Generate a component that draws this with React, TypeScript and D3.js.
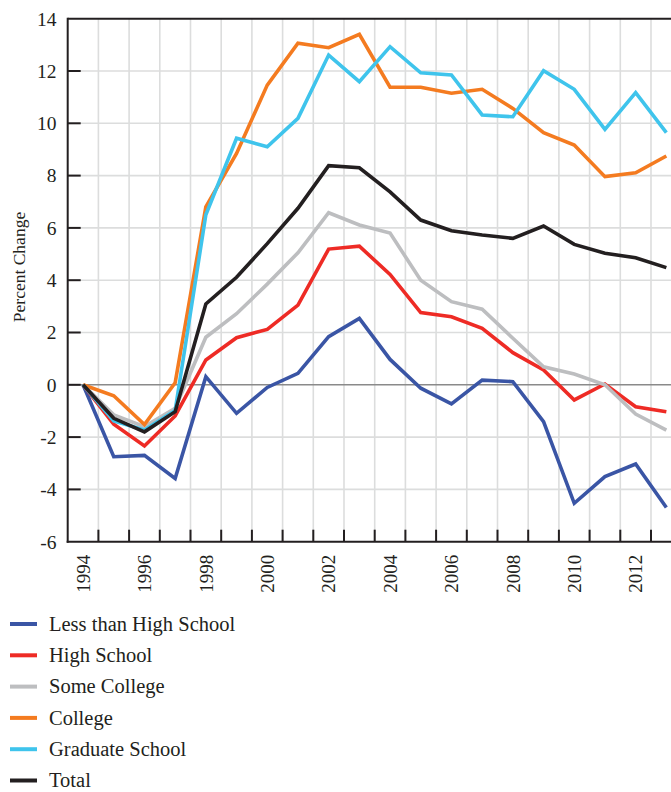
import React from "react";
import * as d3 from "d3";

const WIDTH = 671;
const HEIGHT = 792;
const MARGIN = { top: 18.7, left: 67.7, bottom: 541.7 };

const years = d3.range(1994, 2014);
const yTicks = [-6, -4, -2, 0, 2, 4, 6, 8, 10, 12, 14];
const xTickYears = [1994, 1996, 1998, 2000, 2002, 2004, 2006, 2008, 2010, 2012];

const lessThanHS = [0, -2.75, -2.7, -3.58, 0.31, -1.09, -0.1, 0.44, 1.84, 2.54, 0.97, -0.13, -0.73, 0.18, 0.12, -1.41, -4.53, -3.51, -3.03, -4.69];
const highSchool = [0, -1.51, -2.34, -1.19, 0.95, 1.8, 2.12, 3.05, 5.19, 5.3, 4.22, 2.76, 2.6, 2.16, 1.23, 0.57, -0.58, 0.03, -0.84, -1.03];
const someCollege = [0, -1.15, -1.6, -0.9, 1.82, 2.72, 3.85, 5.05, 6.58, 6.11, 5.8, 4.0, 3.18, 2.89, 1.78, 0.69, 0.41, 0.0, -1.12, -1.73];
const college = [0, -0.42, -1.52, 0.08, 6.8, 8.85, 11.46, 13.06, 12.89, 13.4, 11.38, 11.38, 11.15, 11.3, 10.57, 9.64, 9.17, 7.96, 8.11, 8.75];
const gradSchool = [0, -1.38, -1.73, -0.98, 6.5, 9.43, 9.1, 10.19, 12.61, 11.59, 12.93, 11.93, 11.85, 10.32, 10.25, 12.01, 11.3, 9.77, 11.17, 9.64];
const total = [0, -1.28, -1.8, -1.03, 3.09, 4.11, 5.4, 6.75, 8.38, 8.3, 7.38, 6.3, 5.89, 5.73, 5.6, 6.07, 5.37, 5.03, 4.86, 4.48];

const seriesNames = ["Less than High School", "High School", "Some College", "College", "Graduate School", "Total"];
const seriesColors = ["#3a55a5", "#ee2b25", "#bdbec0", "#f47b20", "#3fc4ec", "#231f20"];
const seriesValues = [lessThanHS, highSchool, someCollege, college, gradSchool, total];

const FONT = "'Liberation Serif', 'DejaVu Serif', serif";
const DARK = "#231f20";
const GRID = "#dcdddd";

export default function App() {
  const xScale = d3
    .scaleBand<number>()
    .domain(years)
    .range([MARGIN.left, MARGIN.left + 20 * 30.7])
    .padding(0);
  const bw = xScale.bandwidth();
  const cx = (yr: number) => (xScale(yr) || 0) + bw / 2;

  const yScale = d3.scaleLinear().domain([-6, 14]).range([MARGIN.bottom, MARGIN.top]);

  const line = d3
    .line<number>()
    .x((_, i) => cx(years[i]))
    .y((d) => yScale(d));

  // grid lines and ticks sit between the years
  const boundaries = years.slice(0, -1).map((yr) => (xScale(yr) || 0) + bw);

  return (
    <div style={{ position: "absolute", left: 0, top: 0 }}>
      <svg width={WIDTH} height={HEIGHT} style={{ display: "block", fontFamily: FONT }}>
        <rect width={WIDTH} height={HEIGHT} fill="#fff" />
        {/* grid */}
        {boundaries.map((bx, i) => (
          <line key={"vg" + i} x1={bx} x2={bx} y1={MARGIN.top} y2={MARGIN.bottom} stroke={GRID} strokeWidth={1.6} />
        ))}
        {yTicks.filter((t) => t !== 0 && t !== -6 && t !== 14).map((t) => (
          <line key={"hg" + t} x1={MARGIN.left} x2={WIDTH} y1={yScale(t)} y2={yScale(t)} stroke={GRID} strokeWidth={1.6} />
        ))}
        <line x1={MARGIN.left} x2={WIDTH} y1={yScale(0)} y2={yScale(0)} stroke="#8a8a8a" strokeWidth={1.6} />

        {/* series */}
        {seriesValues.map((vals, k) => (
          <path
            key={seriesNames[k]}
            d={line(vals) || ""}
            fill="none"
            stroke={seriesColors[k]}
            strokeWidth={3.6}
            strokeLinejoin="miter"
            strokeMiterlimit={3}
          />
        ))}

        {/* frame */}
        <line x1={MARGIN.left} x2={WIDTH} y1={MARGIN.top} y2={MARGIN.top} stroke={DARK} strokeWidth={2} />
        <line x1={MARGIN.left} x2={MARGIN.left} y1={MARGIN.top - 1} y2={MARGIN.bottom + 1} stroke={DARK} strokeWidth={2} />
        <line x1={MARGIN.left - 1} x2={WIDTH} y1={MARGIN.bottom} y2={MARGIN.bottom} stroke={DARK} strokeWidth={2} />

        {/* y ticks */}
        {yTicks.map((t) => (
          <g key={"yt" + t}>
            {t !== -6 && t !== 14 && (
              <line x1={MARGIN.left} x2={MARGIN.left + 13} y1={yScale(t)} y2={yScale(t)} stroke={DARK} strokeWidth={2} />
            )}
            <text x={56.5} y={yScale(t)} dy="0.35em" textAnchor="end" fontSize={19.5} fill={DARK}>
              {t}
            </text>
          </g>
        ))}

        {/* x ticks */}
        {boundaries.map((bx, i) => (
          <line key={"xt" + i} x1={bx} x2={bx} y1={MARGIN.bottom} y2={MARGIN.bottom - 12} stroke={DARK} strokeWidth={2} />
        ))}
        {xTickYears.map((yr) => (
          <text
            key={"xl" + yr}
            transform={`translate(${cx(yr)},${MARGIN.bottom + 13}) rotate(-90)`}
            textAnchor="end"
            dy="0.35em"
            fontSize={19}
            fill={DARK}
          >
            {yr}
          </text>
        ))}

        {/* y axis title */}
        <text transform="translate(25,267) rotate(-90)" textAnchor="middle" fontSize={17.5} fill={DARK}>
          Percent Change
        </text>

        {/* legend */}
        {seriesNames.map((name, i) => {
          const ly = 624 + i * 31.3;
          return (
            <g key={"lg" + name}>
              <line x1={10} x2={37} y1={ly} y2={ly} stroke={seriesColors[i]} strokeWidth={4} />
              <text x={49} y={ly} dy="0.33em" fontSize={20.5} fill={DARK}>
                {name}
              </text>
            </g>
          );
        })}
      </svg>
    </div>
  );
}
